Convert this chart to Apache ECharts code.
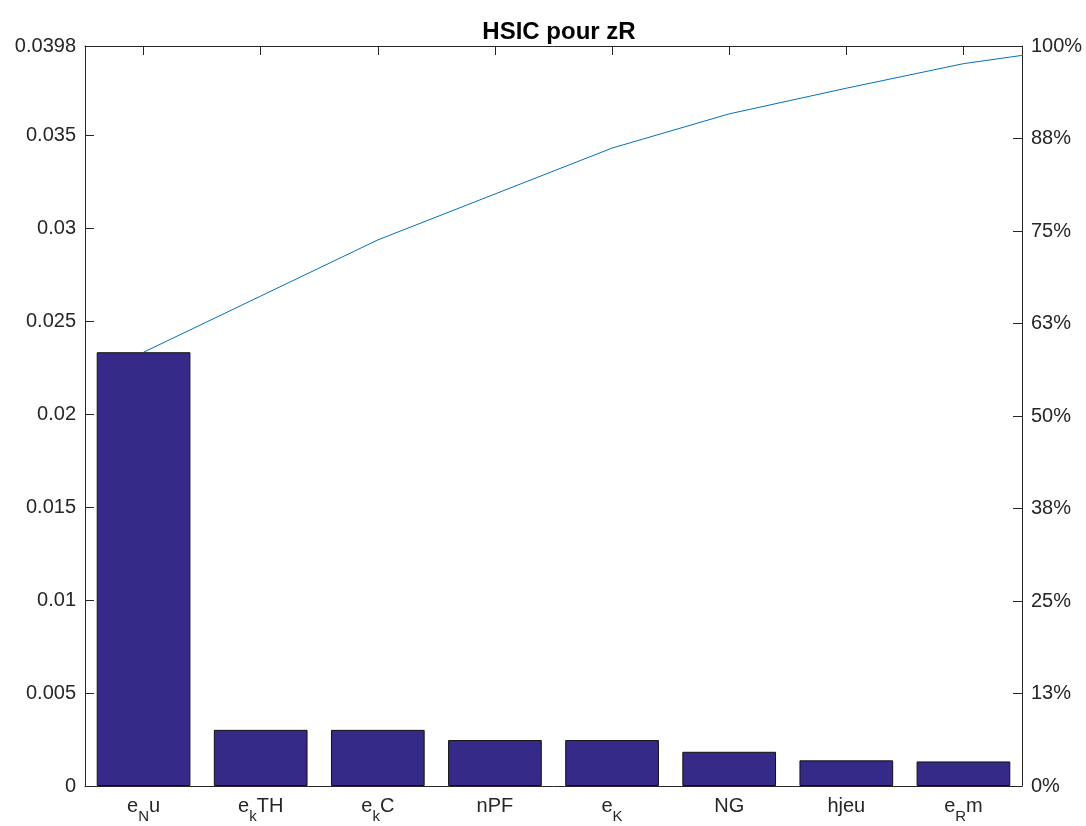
<!DOCTYPE html>
<html><head><meta charset="utf-8">
<script src="https://cdn.jsdelivr.net/npm/echarts@6/dist/echarts.min.js"></script>
<style>html,body{margin:0;padding:0;background:#fff}#c{width:1086px;height:826px}</style>
</head><body><div id="c"></div>
<script>
// categories (TeX-like: _{x} = subscript)
const categories = ['e_{N}u', 'e_{k}TH', 'e_{k}C', 'nPF', 'e_{K}', 'NG', 'hjeu', 'e_{R}m'];
// bar heights (HSIC values)
const hsicValues = [0.02333, 0.00302, 0.00302, 0.00247, 0.00247, 0.00184, 0.00138, 0.00132];
// next (undisplayed) item: the cumulative line continues toward it past the last bar
const hiddenTailValues = [0.00089];
// total of all HSIC values = left axis maximum = 100%
const totalHsic = 0.0398;
const leftInterval = 0.005;
const rightInterval = 12.5;

function richLabel(s) {
  const parts = s.split(/_\{|\}/);
  let out = '';
  parts.forEach((p, i) => { if (p) out += (i % 2 ? '{sub|' : '{n|') + p + '}'; });
  return out;
}

const allVals = hsicValues.concat(hiddenTailValues);
let acc = 0;
const cumPct = allVals.map((v, i) => { acc += v; return [i + 1, acc / totalHsic * 100]; });

const axisColor = '#262626';
const font = 'Liberation Sans, Arial, Helvetica, sans-serif';
const chart = echarts.init(document.getElementById('c'), null, {renderer: 'canvas'});
chart.setOption({
  animation: false,
  backgroundColor: '#fff',
  title: {
    text: 'HSIC pour zR', left: 554, top: 15, textAlign: 'center',
    textStyle: {fontFamily: font, fontSize: 24, fontWeight: 'bold', color: '#000'}
  },
  grid: {left: 85, right: 64, top: 46, bottom: 40, containLabel: false},
  xAxis: [
    {
      type: 'category', data: categories, position: 'bottom',
      axisLine: {lineStyle: {color: axisColor, width: 1}},
      axisTick: {show: false},
      axisLabel: {
        interval: 0, margin: 10, color: axisColor, fontFamily: font,
        formatter: richLabel,
        rich: {
          n: {fontSize: 20, fontFamily: font, color: axisColor, lineHeight: 24, verticalAlign: 'top'},
          sub: {fontSize: 15, fontFamily: font, color: axisColor, lineHeight: 15, padding: [13, 0, 0, 0], verticalAlign: 'top'}
        }
      }
    },
    {type: 'value', min: 0.5, max: 8.5, show: false},
    {
      type: 'category', data: categories, position: 'top',
      axisLine: {lineStyle: {color: axisColor, width: 1}},
      axisTick: {show: true, inside: true, length: 9, alignWithLabel: true, interval: 0, lineStyle: {color: axisColor}},
      axisLabel: {show: false}, splitLine: {show: false}
    }
  ],
  yAxis: [
    {
      type: 'value', min: 0, max: totalHsic, interval: leftInterval, position: 'left',
      axisLine: {show: true, lineStyle: {color: axisColor, width: 1}},
      axisTick: {show: true, inside: true, length: 9, lineStyle: {color: axisColor}},
      splitLine: {show: false},
      axisLabel: {
        margin: 9, color: axisColor, fontFamily: font, fontSize: 20,
        formatter: v => String(parseFloat(v.toPrecision(4)))
      }
    },
    {
      type: 'value', min: 0, max: 100, interval: rightInterval, position: 'right',
      axisLine: {show: true, lineStyle: {color: axisColor, width: 1}},
      axisTick: {show: true, inside: true, length: 9, lineStyle: {color: axisColor}},
      splitLine: {show: false},
      axisLabel: {
        margin: 9, color: axisColor, fontFamily: font, fontSize: 20,
        formatter: v => Math.round(v) + '%'
      }
    }
  ],
  series: [
    {
      type: 'bar', data: hsicValues, xAxisIndex: 0, yAxisIndex: 0, barWidth: '80%',
      itemStyle: {color: '#352a87', borderColor: '#111', borderWidth: 1}
    },
    {
      type: 'line', data: cumPct, xAxisIndex: 1, yAxisIndex: 1, clip: true,
      showSymbol: false, symbol: 'none',
      lineStyle: {color: '#0072BD', width: 1}
    }
  ]
});
</script>
</body></html>
